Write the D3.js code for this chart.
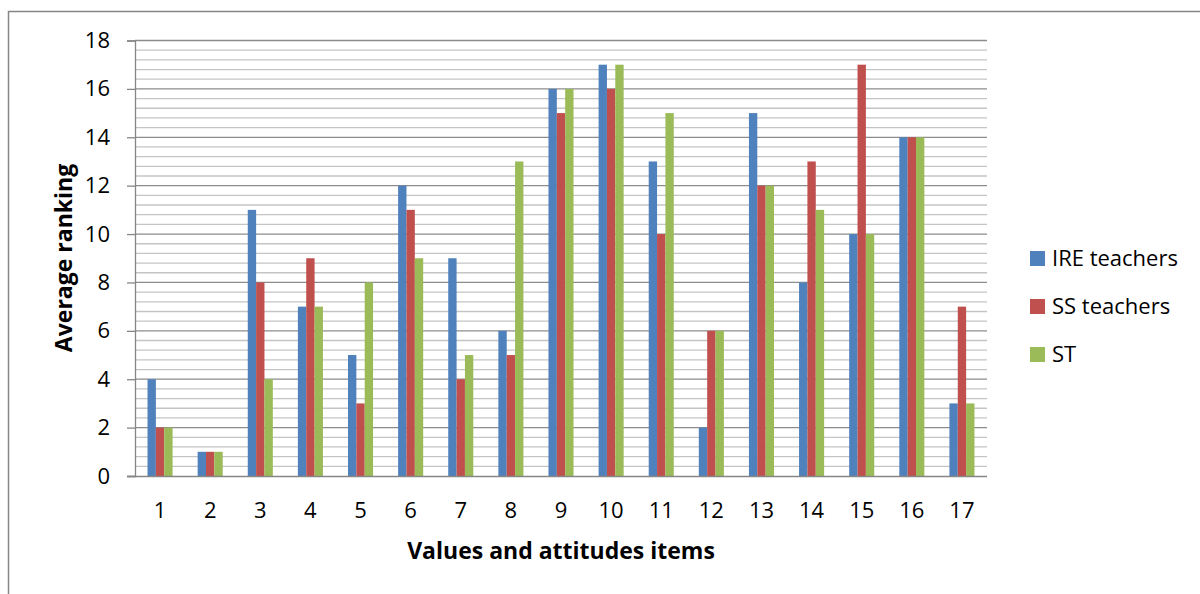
<!DOCTYPE html>
<html>
<head>
<meta charset="utf-8">
<script src="https://cdn.jsdelivr.net/npm/d3@7"></script>
<style>
  html, body { margin: 0; padding: 0; background: #fff; }
  svg { display: block; }
  text { font-family: "Open Sans", Lato, sans-serif; fill: #000; }
</style>
</head>
<body>
<svg id="chart" width="1200" height="594"></svg>
<script>
// Average ranking of values and attitudes items by respondent group
const items = ["1","2","3","4","5","6","7","8","9","10","11","12","13","14","15","16","17"];
const ireTeachers = [4, 1, 11, 7, 5, 12, 9, 6, 16, 17, 13, 2, 15, 8, 10, 14, 3];
const ssTeachers  = [2, 1, 8, 9, 3, 11, 4, 5, 15, 16, 10, 6, 12, 13, 17, 14, 7];
const stValues    = [2, 1, 4, 7, 8, 9, 5, 13, 16, 17, 15, 6, 12, 11, 10, 14, 3];
const seriesNames = ["IRE teachers", "SS teachers", "ST"];
const yTicks = [0, 2, 4, 6, 8, 10, 12, 14, 16, 18];

const series = [
  { name: seriesNames[0], values: ireTeachers, color: "#4F81BD" },
  { name: seriesNames[1], values: ssTeachers,  color: "#C0504D" },
  { name: seriesNames[2], values: stValues,    color: "#9BBB59" }
];

const svg = d3.select("#chart");
const plot = { left: 135, right: 987, top: 40.5, bottom: 476 };
const font = "'Open Sans', Lato, sans-serif";

// Outer frame (top and left edges visible)
svg.append("path")
  .attr("d", "M8.5,600 L8.5,11.5 L1210,11.5")
  .attr("fill", "none").attr("stroke", "#868686").attr("stroke-width", 1.5);

const x = d3.scaleBand().domain(items).range([plot.left, plot.right]).paddingInner(0).paddingOuter(0);
const x1 = d3.scaleBand().domain(seriesNames)
  .range([x.bandwidth() * 0.25, x.bandwidth() * 0.75]);
const y = d3.scaleLinear().domain([0, 18]).range([plot.bottom, plot.top]);

// Minor gridlines every 0.4
const minor = d3.range(0, 18.001, 0.4).filter(v => Math.abs(v / 2 - Math.round(v / 2)) > 1e-6);
svg.append("g").selectAll("line").data(minor).join("line")
  .attr("x1", plot.left).attr("x2", plot.right)
  .attr("y1", d => y(d)).attr("y2", d => y(d))
  .attr("stroke", "#c4c4c4").attr("stroke-width", 1.3);

// Major gridlines every 2
svg.append("g").selectAll("line").data(yTicks.filter(v => v > 0)).join("line")
  .attr("x1", plot.left).attr("x2", plot.right)
  .attr("y1", d => y(d)).attr("y2", d => y(d))
  .attr("stroke", "#8c8c8c").attr("stroke-width", 1.3);

// Bars
const groups = svg.append("g").selectAll("g").data(items).join("g")
  .attr("transform", d => `translate(${x(d)},0)`);
groups.selectAll("rect")
  .data((d, i) => series.map(s => ({ key: s.name, value: s.values[i], color: s.color })))
  .join("rect")
  .attr("x", d => x1(d.key))
  .attr("width", x1.bandwidth())
  .attr("y", d => y(d.value))
  .attr("height", d => y(0) - y(d.value))
  .attr("fill", d => d.color);

// Y axis
const yAxis = d3.axisLeft(y).tickValues(yTicks).tickSize(8).tickPadding(17);
const yg = svg.append("g").attr("transform", `translate(${plot.left},0)`).call(yAxis);
yg.select(".domain").attr("stroke", "#868686").attr("stroke-width", 1.3);
yg.selectAll(".tick line").attr("stroke", "#868686").attr("stroke-width", 1.3);
yg.selectAll(".tick text").attr("font-size", 22).attr("font-family", font).attr("fill", "#000");

// X axis
const xAxis = d3.axisBottom(x).tickSize(0).tickPadding(26);
const xg = svg.append("g").attr("transform", `translate(0,${plot.bottom})`).call(xAxis);
xg.select(".domain").attr("stroke", "#868686").attr("stroke-width", 1.3)
  .attr("d", `M${plot.left - 8},0.5H${plot.right}`);
xg.selectAll(".tick text").attr("font-size", 22).attr("font-family", font).attr("fill", "#000");

// Axis titles
svg.append("text")
  .attr("transform", "translate(72,258) rotate(-90)")
  .attr("text-anchor", "middle")
  .attr("font-size", 23).attr("font-weight", "bold")
  .text("Average ranking");

svg.append("text")
  .attr("x", 561).attr("y", 559)
  .attr("text-anchor", "middle")
  .attr("font-size", 23).attr("font-weight", "bold")
  .text("Values and attitudes items");

// Legend
const legend = svg.append("g").selectAll("g").data(series).join("g")
  .attr("transform", (d, i) => `translate(1030,${251 + i * 48})`);
legend.append("rect").attr("width", 15).attr("height", 15).attr("fill", d => d.color);
legend.append("text").attr("x", 22).attr("y", 15)
  .attr("font-size", 22).text(d => d.name);
</script>
</body>
</html>
